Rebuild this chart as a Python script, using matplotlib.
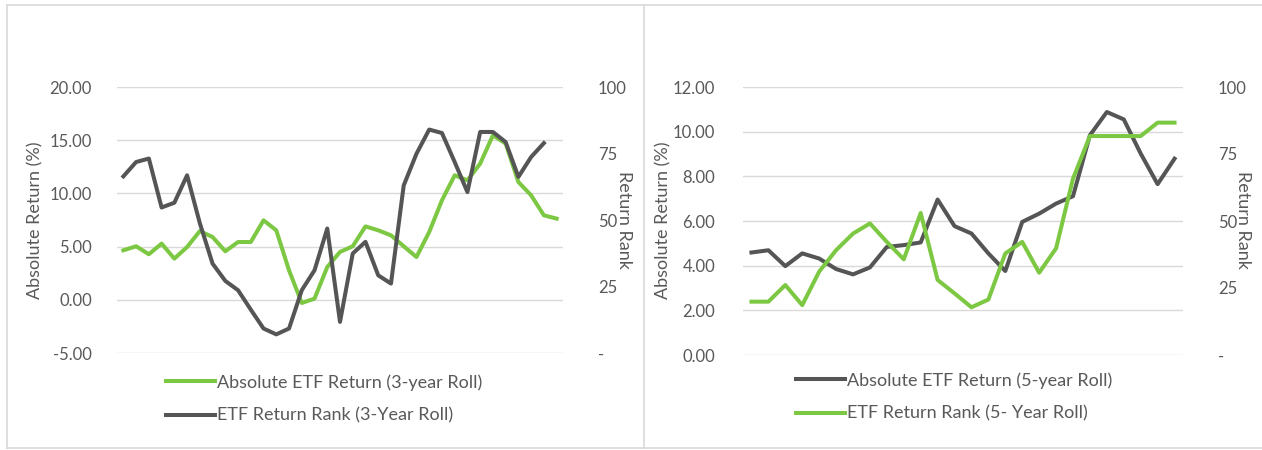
import matplotlib

matplotlib.use("Agg")
import matplotlib.pyplot as plt
from matplotlib.lines import Line2D

# 3-year roll (left panel)
ret_3y = [4.65, 5.03, 4.28, 5.28, 3.87, 4.96, 6.46, 5.90, 4.56, 5.43, 5.43, 7.47,
          6.53, 2.77, -0.30, 0.11, 3.08, 4.50, 5.03, 6.90, 6.53, 6.06, 5.03, 4.02,
          6.37, 9.35, 11.70, 11.23, 12.80, 15.46, 14.68, 11.07, 9.82, 7.94, 7.63]
rank_3y = [66.4, 71.8, 73.1, 54.7, 56.5, 66.8, 48.8, 33.6, 27.1, 23.6, 16.3, 9.2,
           7.0, 9.2, 23.6, 31.1, 46.8, 11.7, 37.4, 41.8, 29.2, 26.1, 63.0, 74.9,
           84.0, 82.7, 71.8, 60.5, 83.1, 83.1, 79.3, 66.2, 73.7, 78.9]

# 5-year roll (right panel)
ret_5y = [4.59, 4.69, 3.98, 4.55, 4.32, 3.85, 3.61, 3.92, 4.84, 4.92, 5.04, 6.96,
          5.77, 5.44, 4.55, 3.76, 5.96, 6.33, 6.78, 7.11, 9.84, 10.88, 10.55, 9.02,
          7.65, 8.79]
rank_5y = [19.9, 19.9, 26.1, 18.6, 31.1, 39.1, 45.3, 49.1, 42.2, 35.7, 53.0, 28.0,
           23.0, 17.8, 20.7, 37.9, 42.2, 30.7, 39.8, 65.8, 81.7, 81.7, 81.7, 81.7,
           86.7, 86.7]

left_ticks_3y = [-5, 0, 5, 10, 15, 20]
left_ticks_5y = [0, 2, 4, 6, 8, 10, 12]
rank_ticks = [0, 25, 50, 75, 100]
rank_labels = ["-", "25", "50", "75", "100"]

GREEN = "#7DC843"
GRAY = "#555555"
TEXT = "#595959"
GRID = "#D9D9D9"

plt.rcParams["font.family"] = ["Lato", "DejaVu Sans"]

W, H = 1262, 450
fig = plt.figure(figsize=(W / 100, H / 100), dpi=100)


def fx(px):
    return px / W


def fy(py):
    return 1 - py / H


def style_axes(ax, ax2, n, ticks, rank_ticks):
    ax.set_xlim(-0.5, n - 0.5)
    ax.set_xticks([])
    ax.set_yticks(ticks)
    ax.set_yticklabels([f"{t:.2f}" for t in ticks])
    ax.set_ylim(ticks[0], ticks[-1])
    ax.grid(axis="y", color=GRID, linewidth=1.0)
    ax.set_axisbelow(True)
    for s in ax.spines.values():
        s.set_visible(False)
    for s in ax2.spines.values():
        s.set_visible(False)
    ax.tick_params(axis="y", length=0, labelsize=12, labelcolor=TEXT, pad=18)
    ax2.set_ylim(0, 100)
    ax2.set_yticks(rank_ticks)
    ax2.set_yticklabels(rank_labels)
    ax2.tick_params(axis="y", length=0, labelsize=12, labelcolor=TEXT, pad=25)


# left panel
ax1 = fig.add_axes([fx(117), fy(353), fx(446), 266 / H])
ax1b = ax1.twinx()
style_axes(ax1, ax1b, len(ret_3y), left_ticks_3y, rank_ticks)
l1, = ax1.plot(range(len(ret_3y)), ret_3y, color=GREEN, lw=2.9,
               label="Absolute ETF Return (3-year Roll)")
l2, = ax1b.plot(range(len(rank_3y)), rank_3y, color=GRAY, lw=2.9,
                label="ETF Return Rank (3-Year Roll)")
ax1b.set_zorder(ax1.get_zorder() + 1)

# right panel
ax2 = fig.add_axes([fx(743), fy(355), fx(440), 268 / H])
ax2b = ax2.twinx()
style_axes(ax2, ax2b, len(ret_5y), left_ticks_5y, rank_ticks)
ax2.tick_params(axis="y", pad=20)
r1, = ax2.plot(range(len(ret_5y)), ret_5y, color=GRAY, lw=2.9,
               label="Absolute ETF Return (5-year Roll)")
r2, = ax2b.plot(range(len(rank_5y)), rank_5y, color=GREEN, lw=2.9,
                label="ETF Return Rank (5- Year Roll)")

# axis titles
for x, txt, rot in [(35, "Absolute Return (%)", 90), (624, "Return Rank", -90),
                    (663, "Absolute Return (%)", 90), (1243, "Return Rank", -90)]:
    fig.text(fx(x), fy(220), txt, rotation=rot, ha="center", va="center",
             fontsize=13, color=TEXT)

# legends
leg_kw = dict(frameon=False, fontsize=13, handlelength=2.7, handletextpad=0.15,
              labelspacing=0.95, borderpad=0, borderaxespad=0, labelcolor=TEXT)
fig.legend([l1, l2], [l1.get_label(), l2.get_label()], loc="upper left",
           bbox_to_anchor=(fx(166), fy(374)), **leg_kw)
fig.legend([r1, r2], [r1.get_label(), r2.get_label()], loc="upper left",
           bbox_to_anchor=(fx(796), fy(372)), **leg_kw)

# chart frames
for xs, ys in [([fx(7), 1], [fy(5), fy(5)]), ([fx(7), fx(7)], [fy(5), fy(448)]),
               ([fx(7), 1], [fy(448), fy(448)]), ([fx(644), fx(644)], [fy(5), fy(448)])]:
    fig.add_artist(Line2D(xs, ys, color=GRID, lw=1.2, transform=fig.transFigure))

fig.savefig("out.png", dpi=100, facecolor="white")
